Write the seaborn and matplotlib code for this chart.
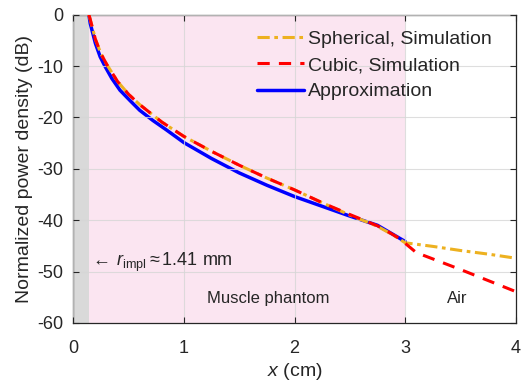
import numpy as np
import pandas as pd
import matplotlib
matplotlib.use('Agg')
import matplotlib.pyplot as plt
import seaborn as sns

# --- data ---
r_impl = 0.141  # cm

sph_x = [0.141, 0.16, 0.2, 0.25, 0.3, 0.4, 0.5, 0.6, 0.8, 1.0, 1.25, 1.5, 1.75,
         2.0, 2.25, 2.5, 2.75, 2.9, 3.0, 3.25, 3.5, 3.75, 4.0]
sph_y = [0.0, -1.5, -4.8, -7.6, -9.6, -13.0, -15.5, -17.5, -20.9, -23.7, -26.6,
         -29.3, -31.8, -34.1, -36.6, -39.0, -41.2, -43.0, -44.4, -45.1, -45.9,
         -46.6, -47.4]

cub_x = [0.141, 0.16, 0.2, 0.25, 0.3, 0.4, 0.5, 0.6, 0.8, 1.0, 1.25, 1.5, 1.75,
         2.0, 2.25, 2.5, 2.75, 2.85, 2.95, 3.0, 3.1, 3.5, 4.0]
cub_y = [0.0, -1.5, -4.8, -7.6, -9.6, -13.0, -15.5, -17.5, -20.9, -23.7, -26.6,
         -29.3, -31.8, -34.1, -36.6, -38.9, -41.1, -42.3, -43.6, -44.5, -46.3,
         -49.6, -53.9]

apx_x = [0.141, 0.153, 0.2, 0.243, 0.288, 0.348, 0.422, 0.512, 0.6, 0.72, 0.84,
         1.0, 1.25, 1.5, 1.75, 2.0, 2.25, 2.5, 2.75, 3.0, 3.0]
apx_y = [0.0, -1.7, -5.6, -8.2, -10.1, -12.4, -14.7, -16.7, -18.6, -20.6, -22.4,
         -24.9, -28.0, -30.8, -33.2, -35.4, -37.3, -39.2, -41.0, -42.7, -45.6]

series = ['Spherical, Simulation', 'Cubic, Simulation', 'Approximation']

sns.set_style('ticks')
plt.rcParams['font.family'] = ['Liberation Sans', 'DejaVu Sans']
plt.rcParams['mathtext.fontset'] = 'custom'
plt.rcParams['mathtext.rm'] = 'Liberation Sans'
plt.rcParams['mathtext.it'] = 'Liberation Sans:italic'
plt.rcParams['axes.unicode_minus'] = False

fig = plt.figure(figsize=(5.21, 3.84), dpi=100)
ax = fig.add_axes([0.1407, 0.159, 0.8493, 0.8028])

# shaded regions
ax.axvspan(0, r_impl, color='#d9d9d9', lw=0, zorder=0)
ax.axvspan(r_impl, 3, color='#fbe5f1', lw=0, zorder=0)

sph_df = pd.DataFrame({'x': sph_x, 'y': sph_y})
cub_df = pd.DataFrame({'x': cub_x, 'y': cub_y})
apx_df = pd.DataFrame({'x': apx_x, 'y': apx_y})

sns.lineplot(data=sph_df, x='x', y='y', ax=ax, sort=False, color='#edb120',
             lw=2.2, linestyle=(0, (4, 1.5, 1.2, 1.5)), label=series[0], zorder=3)
sns.lineplot(data=cub_df, x='x', y='y', ax=ax, sort=False, color='#ff0000',
             lw=2.2, linestyle=(0, (4, 3)), label=series[1], zorder=4)
sns.lineplot(data=apx_df, x='x', y='y', ax=ax, sort=False, color='#0000ff',
             lw=2.5, label=series[2], zorder=2)

ax.set_xlim(0, 4)
ax.set_ylim(-60, 0)
ax.set_xticks([0, 1, 2, 3, 4])
ax.set_yticks([0, -10, -20, -30, -40, -50, -60])
ax.grid(True, color='#d6d6d6', lw=0.8, alpha=0.8, zorder=1)
ax.set_axisbelow(False)
for gl in ax.get_xgridlines() + ax.get_ygridlines():
    gl.set_zorder(1)
ax.tick_params(direction='in', top=True, right=True, labelsize=13, length=4,
               color='#262626', labelcolor='#262626')
ax.tick_params(axis='x', pad=12)
ax.tick_params(axis='y', pad=7)
for s in ax.spines.values():
    s.set_color('#262626')
    s.set_linewidth(0.9)

ax.set_xlabel('$x$ (cm)', fontsize=14, color='#262626', labelpad=3)
ax.set_ylabel('Normalized power density (dB)', fontsize=14, color='#262626', labelpad=3)

ax.text(0.15, -48.3, r'$\leftarrow\,r_{\mathrm{impl}}$$\approx$1.41 mm', fontsize=13,
        ha='left', va='center', color='#262626')
ax.text(1.76, -55.3, 'Muscle phantom', fontsize=12, ha='center', va='center', color='#262626')
ax.text(3.47, -55.3, 'Air', fontsize=12, ha='center', va='center', color='#262626')

leg = ax.legend(loc='upper left', bbox_to_anchor=(0.397, 0.975), borderaxespad=0,
                fontsize=14, handlelength=2.42, handletextpad=0.2, labelspacing=0.45,
                borderpad=0.4, frameon=True, fancybox=False)
leg.get_frame().set_facecolor('none')
leg.get_frame().set_edgecolor('none')

plt.savefig('out.png', dpi=100)
plt.close()
